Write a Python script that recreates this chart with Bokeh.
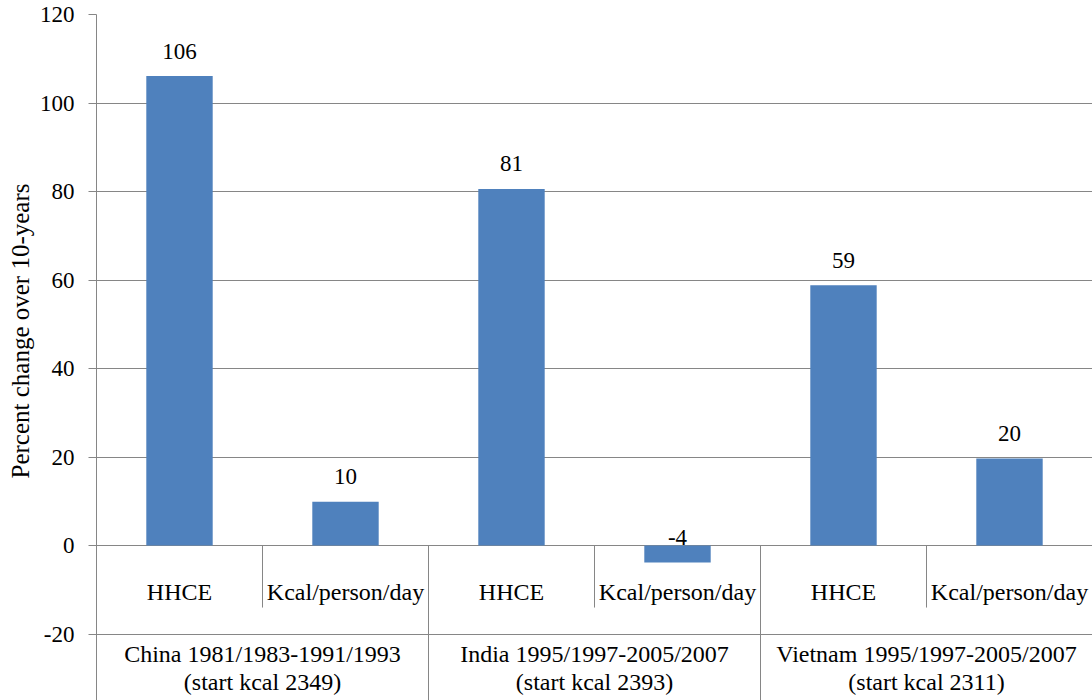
from bokeh.plotting import figure
from bokeh.models import Range1d, FixedTicker, ColumnDataSource, Title, PrintfTickFormatter
from bokeh.core.properties import value
from bokeh.embed import file_html
from bokeh.resources import INLINE

# ---- data ----
groups = ["China 1981/1983-1991/1993", "India 1995/1997-2005/2007", "Vietnam 1995/1997-2005/2007"]
group_starts = ["(start kcal 2349)", "(start kcal 2393)", "(start kcal 2311)"]
measures = ["HHCE", "Kcal/person/day"]
pct_change = [106.1, 9.9, 80.6, -3.8, 58.8, 19.7]
y_ticks = [-20, 0, 20, 40, 60, 80, 100, 120]
y_title = "Percent change over 10-years"

# ---- style ----
FONT = "Liberation Serif"
QFONT = '"Liberation Serif"'
BAR = "#4F81BD"
GRID = "#868686"

n_bars = len(pct_change)
n_meas = len(measures)
x_center = [i + 0.5 for i in range(n_bars)]
sub_labels = measures * len(groups)
group_centers = [n_meas * (g + 0.5) for g in range(len(groups))]

Y_MIN, Y_MAX = -35.0, 120

p = figure(width=1092, height=700,
           x_range=Range1d(0, n_bars), y_range=Range1d(Y_MIN, Y_MAX),
           output_backend="svg", toolbar_location=None, x_axis_location=None,
           min_border_left=96, min_border_right=0, min_border_top=14, min_border_bottom=0)
p.outline_line_color = None
p.background_fill_color = "white"
p.border_fill_color = "white"

# grid
p.xgrid.visible = False
p.ygrid.ticker = FixedTicker(ticks=y_ticks)
p.ygrid.grid_line_color = GRID
p.ygrid.grid_line_width = 1

# y axis
ax = p.yaxis[0]
ax.ticker = FixedTicker(ticks=y_ticks)
ax.formatter = PrintfTickFormatter(format="%d")
ax.axis_line_color = GRID
ax.major_tick_line_color = GRID
ax.major_tick_out = 8
ax.major_tick_in = 0
ax.minor_tick_line_color = None
ax.major_label_standoff = 14
ax.major_label_text_font = QFONT
ax.major_label_text_font_size = "23px"
ax.major_label_text_color = "black"

# y axis title
p.add_layout(Title(text=y_title, align="left", offset=222,
                   text_font=QFONT, text_font_size="25px", text_font_style="normal",
                   text_color="black", standoff=5), "left")

# bars
src = ColumnDataSource(dict(
    x=x_center,
    v=pct_change,
    ly=[max(v, 0) for v in pct_change],
    lbl=[str(int(round(v))) for v in pct_change],
    off=[-25 if v >= 0 else -8 for v in pct_change],
))
p.vbar(x="x", top="v", bottom=0, width=0.4, source=src, fill_color=BAR, line_color=None)
p.text(x="x", y="ly", text="lbl", y_offset="off", source=src,
       text_align="center", text_baseline="middle",
       text_font=value(FONT), text_font_size="23px", text_color="black")

# category axis (two levels)
inner_bounds = [n_meas * g + 1 for g in range(len(groups))]
group_bounds = [n_meas * (g + 1) for g in range(len(groups))]
p.segment(x0=inner_bounds, y0=[0] * len(inner_bounds), x1=inner_bounds, y1=[-14] * len(inner_bounds),
          line_color=GRID, line_width=1)
p.segment(x0=group_bounds, y0=[0] * len(group_bounds), x1=group_bounds, y1=[Y_MIN] * len(group_bounds),
          line_color=GRID, line_width=1)

p.text(x=x_center, y=[-10.5] * n_bars, text=sub_labels,
       text_align="center", text_baseline="middle",
       text_font=value(FONT), text_font_size="24px", text_color="black")
p.text(x=group_centers, y=[-24.6] * len(groups), text=groups,
       text_align="center", text_baseline="middle",
       text_font=value(FONT), text_font_size="24px", text_color="black")
p.text(x=group_centers, y=[-30.9] * len(groups), text=group_starts,
       text_align="center", text_baseline="middle",
       text_font=value(FONT), text_font_size="24px", text_color="black")

open("out.html", "w").write(file_html(p, INLINE))
